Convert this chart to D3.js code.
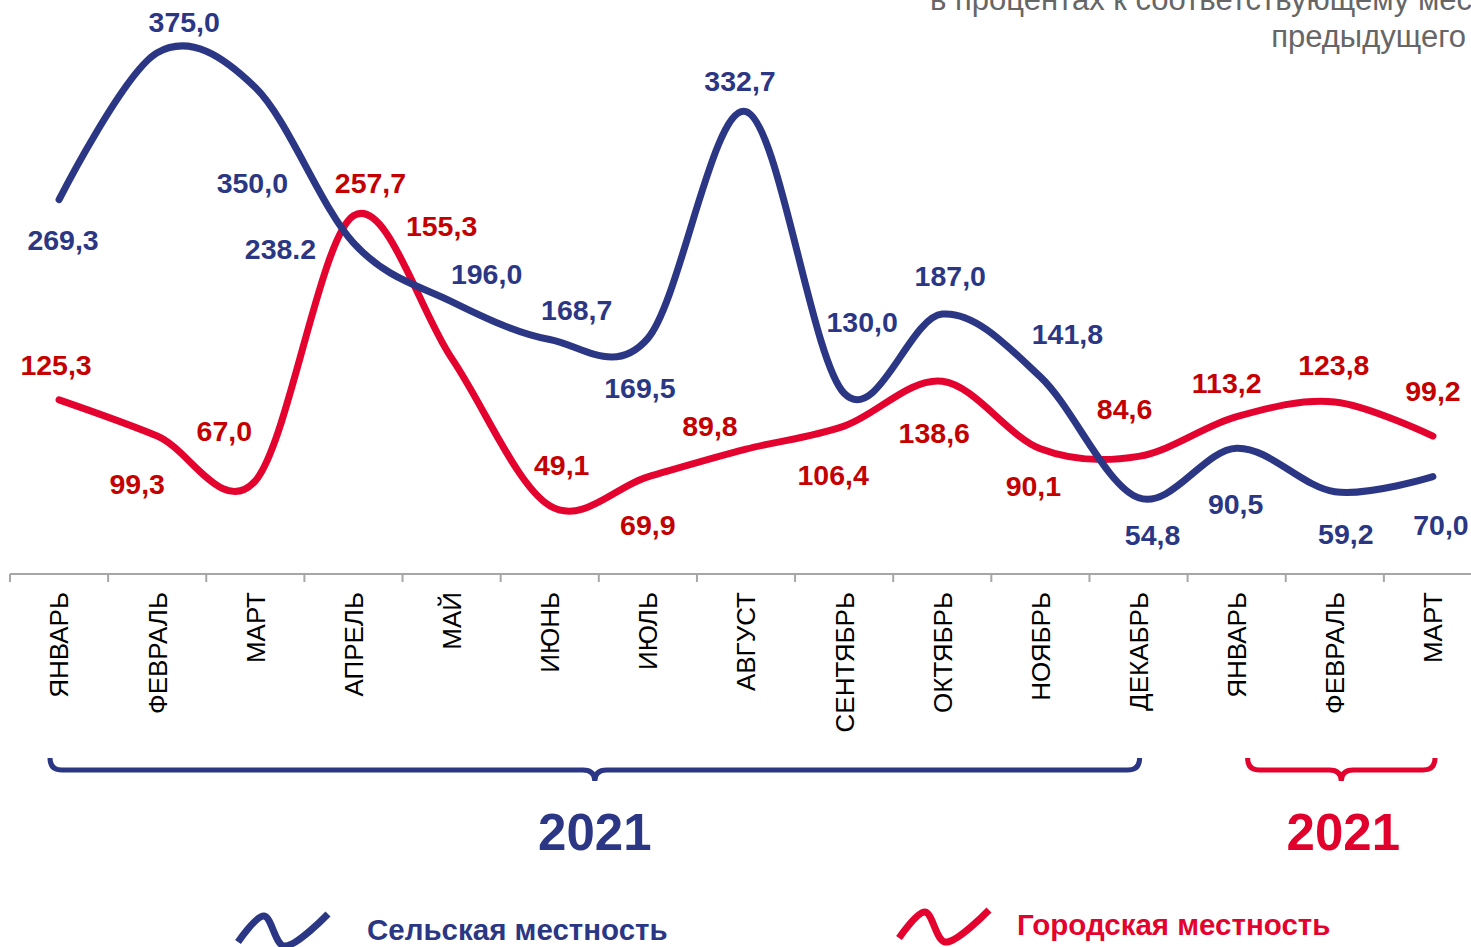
<!DOCTYPE html>
<html><head><meta charset="utf-8">
<script src="https://cdn.jsdelivr.net/npm/d3@7"></script>
<style>html,body{margin:0;padding:0;background:#fff;}svg{display:block;}</style>
</head><body>
<svg id="c" width="1471" height="947"></svg>
<script>
const months = ["ЯНВАРЬ","ФЕВРАЛЬ","МАРТ","АПРЕЛЬ","МАЙ","ИЮНЬ","ИЮЛЬ","АВГУСТ","СЕНТЯБРЬ","ОКТЯБРЬ","НОЯБРЬ","ДЕКАБРЬ","ЯНВАРЬ","ФЕВРАЛЬ","МАРТ"];
const rural = [269.3,375.0,350.0,238.2,196.0,168.7,169.5,332.7,130.0,187.0,141.8,54.8,90.5,59.2,70.0];
const urban = [125.3,99.3,67.0,257.7,155.3,49.1,69.9,89.8,106.4,138.6,90.1,84.6,113.2,123.8,99.2];
const ruralText = ["269,3","375,0","350,0","238.2","196,0","168,7","169,5","332,7","130,0","187,0","141,8","54,8","90,5","59,2","70,0"];
const urbanText = ["125,3","99,3","67,0","257,7","155,3","49,1","69,9","89,8","106,4","138,6","90,1","84,6","113,2","123,8","99,2"];
const seriesNames = ["Сельская местность","Городская местность"];
const yearLabels = ["2021","2021"];
const titleLines = ["в процентах к соответствующему месяцу","предыдущего"];

// label offsets (style, relative to each point)
const ruralOff = [[4,40],[27,-31],[-3,95],[-73,6],[35,-28],[27,-30],[-8,49],[-6,-31],[18,-72],[8,-38],[27,-43],[14,37],[-1,56],[11,42],[8,48]];
const urbanOff = [[-3,-35],[-20,48],[-31,-50],[17,-33],[-10,-132],[12,-41],[0,48],[-36,-23],[-11,49],[-8,51],[-7,37],[-14,-48],[-10,-34],[-1,-37],[0,-45]];

const BLUE = "#2B3784", RED = "#E4032E", RED_T = "#C50000", GRAY = "#666";
const FONT = "'Liberation Sans', Arial, sans-serif";

const svg = d3.select("#c");
const idx = d3.range(months.length);
const x = d3.scaleBand().domain(idx).range([10, 1482]).padding(0);
const y = d3.scaleLinear().domain([0, 400]).range([574, 18]);
const cx = i => x(i) + x.bandwidth()/2;

// title (cut at the edges, as in the reference)
svg.append("text").attr("x", 930).attr("y", 10).attr("font-family", FONT).attr("font-size", 31)
  .attr("fill", GRAY).text(titleLines[0]);
svg.append("text").attr("x", 1466).attr("y", 47).attr("text-anchor","end").attr("font-family", FONT).attr("font-size", 31)
  .attr("fill", GRAY).text(titleLines[1]);

// axis
const ax = svg.append("g").attr("transform","translate(0,574)");
ax.append("line").attr("x1",10).attr("x2",1471).attr("y1",0).attr("y2",0).attr("stroke","#A6A6A6").attr("stroke-width",2);
ax.selectAll("line.tk").data(idx).join("line").attr("class","tk")
  .attr("x1", i => x(i)).attr("x2", i => x(i)).attr("y1",0).attr("y2",8)
  .attr("stroke","#A6A6A6").attr("stroke-width",2);
ax.selectAll("text").data(idx).join("text")
  .attr("transform", i => `translate(${cx(i)},18) rotate(-90)`)
  .attr("text-anchor","end").attr("dy","0.36em")
  .attr("font-family", FONT).attr("font-size", 26).attr("fill","#000")
  .text(i => months[i]);

// lines
const line = d3.line().x((d,i) => cx(i)).y(d => y(d)).curve(d3.curveCardinal.tension(0));
svg.append("path").datum(urban).attr("d", line).attr("fill","none").attr("stroke",RED).attr("stroke-width",7).attr("stroke-linecap","round");
svg.append("path").datum(rural).attr("d", line).attr("fill","none").attr("stroke",BLUE).attr("stroke-width",7).attr("stroke-linecap","round");

// data labels
function labels(vals, txt, off, color){
  svg.append("g").selectAll("text").data(vals).join("text")
    .attr("x", (d,i) => cx(i) + off[i][0])
    .attr("y", (d,i) => y(d) + off[i][1])
    .attr("dy","0.36em").attr("text-anchor","middle")
    .attr("font-family", FONT).attr("font-weight","bold").attr("font-size", 28.5).attr("fill", color)
    .text((d,i) => txt[i]);
}
labels(rural, ruralText, ruralOff, BLUE);
labels(urban, urbanText, urbanOff, RED_T);

// braces
function brace(i0, i1, padL, padR, color){
  const x0 = x(i0) + padL, x1 = x(i1) + x.bandwidth() - padR;
  const m = (x0 + x1)/2, top = 758, mid = 770, tip = 781, r = 12;
  const p = d3.path();
  p.moveTo(x0, top);
  p.quadraticCurveTo(x0, mid, x0 + r, mid);
  p.lineTo(m - r, mid);
  p.quadraticCurveTo(m, mid, m, tip);
  p.quadraticCurveTo(m, mid, m + r, mid);
  p.lineTo(x1 - r, mid);
  p.quadraticCurveTo(x1, mid, x1, top);
  svg.append("path").attr("d", p.toString()).attr("fill","none").attr("stroke",color).attr("stroke-width",5);
  return m;
}
const m1 = brace(0, 11, 40, 48, BLUE);
const m2 = brace(12, 14, 60, 47, RED);
svg.append("text").attr("x", m1).attr("y", 850).attr("text-anchor","middle").attr("font-family",FONT)
  .attr("font-weight","bold").attr("font-size",51).attr("fill",BLUE).text(yearLabels[0]);
svg.append("text").attr("x", m2 + 2).attr("y", 850).attr("text-anchor","middle").attr("font-family",FONT)
  .attr("font-weight","bold").attr("font-size",51).attr("fill","#E0002B").text(yearLabels[1]);

// legend
function legend(x0, y0, tx, ty, color, name){
  const pts = [[0,28],[26,2],[46,32],[90,0]];
  const wl = d3.line().curve(d3.curveCatmullRom);
  svg.append("path").attr("d", wl(pts.map(p => [x0 + p[0], y0 + p[1]])))
    .attr("fill","none").attr("stroke",color).attr("stroke-width",7);
  svg.append("text").attr("x", tx).attr("y", ty).attr("font-family",FONT)
    .attr("font-weight","bold").attr("font-size",29.5).attr("fill",color).text(name);
}
legend(238, 914, 367, 940, BLUE, seriesNames[0]);
legend(899, 910, 1017, 935, RED, seriesNames[1]);
</script>
</body></html>
